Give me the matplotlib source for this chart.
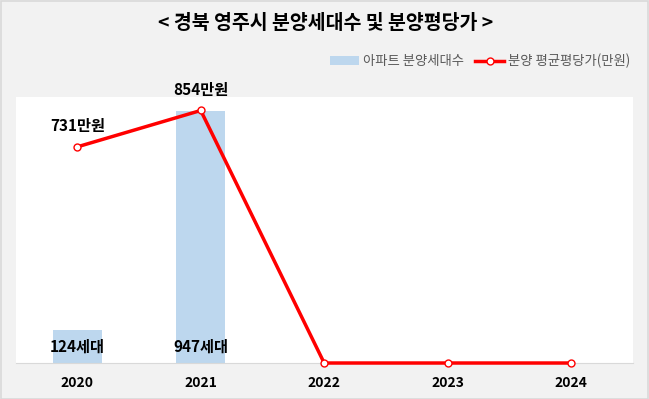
import matplotlib
matplotlib.use("Agg")
import matplotlib.pyplot as plt
from matplotlib.patches import Rectangle

plt.rcParams['font.family'] = ['Noto Sans CJK KR', 'DejaVu Sans']

years = ['2020', '2021', '2022', '2023', '2024']
units = [124, 947, 0, 0, 0]
prices = [731, 854, 0, 0, 0]
unit_labels = ['124세대', '947세대', None, None, None]
price_labels = ['731만원', '854만원', None, None, None]

fig = plt.figure(figsize=(6.49, 3.99), dpi=100)
fig.patch.set_facecolor('#f2f2f2')
fig.add_artist(Rectangle((0.001, 0.001), 0.998, 0.996, transform=fig.transFigure,
                         fill=False, edgecolor='#d9d9d9', linewidth=1.2))

ax = fig.add_axes([0.024, 0.0902, 0.951, 0.667])
ax.set_facecolor('white')
x = list(range(len(years)))
bars = ax.bar(x, units, width=0.4, color='#bdd7ee', zorder=2, label='아파트 분양세대수')
ax.set_xlim(-0.5, 4.5)
ax.set_ylim(0, 1000)
ax.set_yticks([])
for s in ['top', 'left', 'right']:
    ax.spines[s].set_visible(False)
ax.spines['bottom'].set_color('#d9d9d9')
ax.set_xticks(x)
ax.set_xticklabels(years, fontsize=10, fontweight='bold')
ax.tick_params(axis='x', length=0, pad=9)

for xi, v, lab in zip(x, units, unit_labels):
    if lab:
        ax.text(xi, 60, lab, ha='center', va='center', fontsize=11,
                fontweight='bold', color='black', zorder=5)

ax2 = ax.twinx()
ax2.set_ylim(0, 900)
ax2.set_yticks([])
for s in ['top', 'left', 'right', 'bottom']:
    ax2.spines[s].set_visible(False)
line, = ax2.plot(x, prices, color='#ff0000', linewidth=2.5, marker='o', markersize=5,
                 markerfacecolor='white', markeredgecolor='#ff0000', markeredgewidth=1,
                 label='분양 평균평당가(만원)', zorder=4, clip_on=False)
for xi, v, lab in zip(x, prices, price_labels):
    if lab:
        ax2.annotate(lab, (xi, v), xytext=(0, 15), textcoords='offset points',
                     ha='center', va='center', fontsize=11, fontweight='bold',
                     color='black', annotation_clip=False)

fig.text(0.502, 0.942, '< 경북 영주시 분양세대수 및 분양평당가 >', ha='center', va='center',
         fontsize=14, fontweight='bold', color='black')

leg = fig.legend(handles=[bars, line], loc='center right', bbox_to_anchor=(0.99, 0.847),
                 ncol=2, frameon=False, fontsize=9.6, handlelength=2.2, handletextpad=0.3,
                 columnspacing=0.8, labelcolor='#595959')

fig.savefig('out.png', dpi=100, facecolor=fig.get_facecolor())
